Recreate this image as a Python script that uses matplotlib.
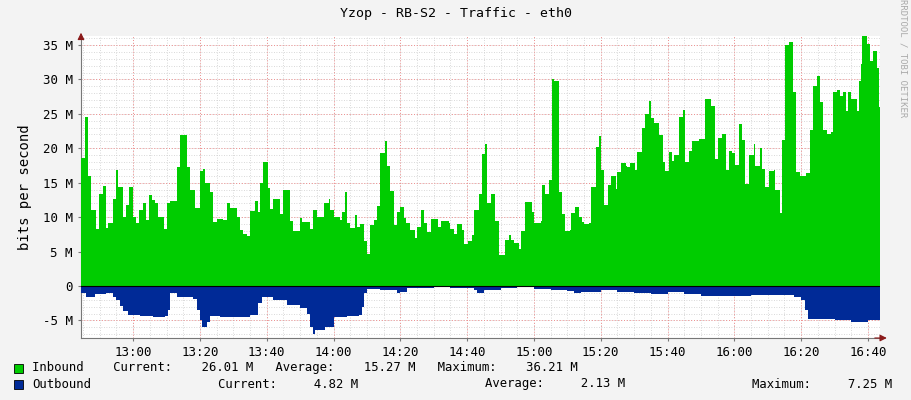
import matplotlib
matplotlib.use("Agg")
import matplotlib.pyplot as plt
import numpy as np

# (minutes after 12:00, inbound Mbit/s)
inbound = [
 (44.5,18.6),(45.5,24.5),(46.5,16.0),(47.5,11.0),(49.0,8.3),(49.7,13.4),(51.0,14.5),(51.8,8.4),(52.5,9.2),(54.0,12.6),
 (55.0,16.8),(55.5,14.4),(57.0,10.0),(58.0,11.8),(58.7,14.4),(60.0,10.0),(61.0,9.2),(61.8,11.0),(63.0,12.0),(64.0,9.6),
 (64.8,13.2),(65.7,12.5),(66.5,12.0),(67.5,10.0),(69.3,8.3),(70.0,12.0),(71.0,12.3),(73.0,17.3),(74.0,21.9),(76.0,17.3),
 (77.0,14.0),(78.5,11.3),(80.0,16.7),(81.0,17.0),(81.5,14.9),(83.0,13.6),(84.0,9.3),(85.0,9.7),(87.0,9.6),(88.0,12.0),
 (89.0,11.3),(91.0,10.0),(92.0,8.2),(93.0,7.6),(94.0,7.2),(95.0,10.9),(96.5,12.3),(97.5,10.8),(98.0,14.9),(99.0,18.0),
 (100.5,14.2),(101.0,11.2),(102.0,12.6),(104.0,10.4),(105.0,14.0),(107.0,9.5),(108.0,8.0),(110.0,9.9),(110.5,9.3),(113.0,8.3),
 (114.0,11.0),(115.0,10.0),(117.0,12.0),(118.5,12.6),(119.0,11.0),(120.0,10.0),(122.0,9.6),(122.5,10.8),(123.5,13.6),(124.0,9.1),
 (125.0,8.4),(126.5,10.3),(127.0,8.6),
 (128.0,9.0),(129.2,6.6),(130.0,4.7),(131.0,8.9),(132.2,9.6),(133.0,11.6),(134.0,19.3),(135.3,21.0),(136.0,17.4),(137.0,13.8),
 (138.0,8.9),(139.0,10.8),(140.0,11.4),(141.0,9.9),(141.8,9.2),(143.0,8.1),(144.5,7.0),(145.0,8.5),(146.3,11.0),(147.0,9.1),
 (148.0,7.9),(149.2,9.8),(151.2,8.6),(152.2,9.5),(154.5,9.1),(155.0,8.3),(156.2,7.5),(157.0,9.0),(158.5,8.2),(159.2,6.1),
 (160.2,6.6),(161.5,7.4),(162.2,11.0),(163.5,13.4),(164.3,19.2),(165.2,20.6),(166.0,12.0),(167.0,13.3),(168.2,9.4),(169.4,4.5),
 (171.2,6.7),(172.5,7.4),(173.2,6.7),(174.0,6.3),(175.5,5.4),(176.2,8.0),(177.2,12.2),(179.5,10.8),(180.0,9.2),(182.0,9.4),
 (182.5,14.7),(183.2,13.4),(184.5,15.4),(185.3,30.1),(186.0,29.8),(187.5,13.6),(188.5,10.4),(189.3,8.0),(190.8,8.2),(191.2,10.6),
 (192.2,11.5),(193.5,10.0),(194.5,9.3),(195.0,9.0),(196.5,9.2),(197.2,14.4),(198.5,20.2),(199.5,21.8),(200.0,16.8),(201.0,11.7),
 (202.2,14.6),(203.2,16.0),(204.5,14.1),(205.0,16.6),(206.2,17.9),(207.5,17.4),(208.0,17.3),
 (208.8,17.8),(210.3,16.8),(211.0,19.4),(212.3,23.0),(213.3,25.0),(214.3,26.9),(215.0,24.4),(216.0,23.6),(217.3,21.9),(218.6,18.0),
 (219.3,16.7),(220.3,19.4),(221.3,18.1),(222.0,19.0),(223.3,24.6),(224.6,25.5),(225.3,18.0),(226.3,19.6),(227.3,21.0),(229.3,21.3),
 (231.3,27.1),(233.0,26.1),(234.3,18.5),(235.0,21.5),(236.3,22.0),(237.6,16.8),(238.3,19.6),(239.3,19.3),(240.3,17.6),(241.4,23.5),
 (242.3,21.2),(243.3,14.8),(244.5,19.0),(245.8,20.6),(246.3,17.4),(247.6,20.1),(248.3,17.0),(249.3,14.4),(250.4,16.7),(251.8,16.9),
 (252.3,14.0),(253.6,10.6),(254.3,21.2),(255.3,35.0),(256.3,35.4),(257.6,28.1),(258.5,16.5),(259.6,16.0),(261.3,16.4),(262.6,22.6),
 (263.6,29.1),(264.6,30.5),(265.5,26.7),(266.5,22.6),(267.8,22.1),(268.8,22.3),(269.5,28.1),(270.8,28.5),(271.5,27.6),(272.6,28.1),
 (273.5,25.4),(274.1,28.1),(274.8,27.2),(276.6,25.4),(277.3,29.7),(278.0,32.3),(278.3,36.3),(279.6,35.2),(280.6,32.6),(281.6,34.1),
 (282.8,31.7),(283.2,26.0),
]
in_t = [p[0] for p in inbound]
in_v = [p[1] for p in inbound]

out_t = [44.4,46,48.5,52,54,55,56,57,58.5,62,66,69.5,70.5,71,73,78,79,80,80.5,82,83,86,90,95,97.5,98.5,102,106,110,112,113,114,114.5,117.5,120,124,127.5,128.5,129,130,134,139,140,142,150,155,162,163,165,170,175,180,185,190,192,194,200,205,210,215,220,225,230,245,258,260,261,262,270,275,280]
out_v = [1.06,1.55,1.2,1.06,1.55,2.0,2.9,3.6,4.2,4.35,4.45,4.35,3.5,1.06,1.55,1.9,3.5,4.9,5.9,5.2,4.35,4.55,4.45,4.2,2.5,1.55,2.1,2.75,3.2,4.0,5.9,6.9,6.4,5.9,4.55,4.35,4.2,3.1,1.06,0.5,0.6,1.06,0.8,0.35,0.2,0.35,0.6,1.0,0.6,0.35,0.2,0.4,0.6,0.7,1.06,0.8,0.6,0.8,1.0,1.1,0.9,1.1,1.4,1.3,1.55,2.0,3.5,4.8,4.95,5.2,4.9]

xticks = [60,80,100,120,140,160,180,200,220,240,260,280]
xlabels = ["13:00","13:20","13:40","14:00","14:20","14:40","15:00","15:20","15:40","16:00","16:20","16:40"]
yticks = [-5,0,5,10,15,20,25,30,35]
ylabels = ["-5 M","0","5 M","10 M","15 M","20 M","25 M","30 M","35 M"]

mono = "DejaVu Sans Mono"
plt.rcParams['font.family'] = mono
fig = plt.figure(figsize=(9.11, 4.0), dpi=100, facecolor="#F3F3F3")
ax = fig.add_axes([81/911, 62/400, 799/911, 302/400])
ax.set_facecolor("white")
XMIN, XMAX = 44.4, 283.6
ax.set_xlim(XMIN, XMAX)
ax.set_ylim(-7.55, 36.3)

t_in = np.array(in_t + [XMAX]); v_in = np.array(in_v + [in_v[-1]])
ax.fill_between(t_in, 0, v_in, step="post", color="#00CC00", lw=0, zorder=3)
t_out = np.array(out_t + [XMAX]); v_out = -np.array(out_v + [out_v[-1]])
ax.fill_between(t_out, 0, v_out, step="post", color="#002A97", lw=0, zorder=3)

for x in np.arange(45, 284, 5):
    ax.axvline(x, color="#CCCCCC", lw=0.6, ls=(0, (1, 2)), zorder=1)
for y in np.arange(-7, 37, 1):
    ax.axhline(y, color="#CCCCCC", lw=0.6, ls=(0, (1, 2)), zorder=1)
for x in xticks:
    ax.axvline(x, color="#F09090", lw=0.7, ls=(0, (1, 2)), zorder=2)
for y in yticks:
    ax.axhline(y, color="#F09090", lw=0.7, ls=(0, (1, 2)), zorder=2)
ax.axhline(0, color="black", lw=0.8, zorder=4)

ax.set_xticks(xticks); ax.set_xticklabels(xlabels, fontsize=9)
ax.set_yticks(yticks); ax.set_yticklabels(ylabels, fontsize=9)
ax.tick_params(length=2, color="#777777", pad=4)
for s in ["top", "right"]:
    ax.spines[s].set_visible(False)
for s in ["left", "bottom"]:
    ax.spines[s].set_color("#777777")
ax.annotate("", xy=(0, 1.02), xytext=(0, 0.98), xycoords="axes fraction",
            arrowprops=dict(arrowstyle="-|>", color="#8B1A1A", lw=0.8))
ax.annotate("", xy=(1.012, 0), xytext=(0.99, 0), xycoords="axes fraction",
            arrowprops=dict(arrowstyle="-|>", color="#8B1A1A", lw=0.8))
ax.set_ylabel("bits per second", fontsize=10, labelpad=8)

fig.text(0.5, 1 - 14/400, "Yzop - RB-S2 - Traffic - eth0", ha="center", va="center", fontsize=9.5)
fig.text(903/911, 0.855, "RRDTOOL / TOBI OETIKER", rotation=270, ha="center", va="center",
         fontsize=6.5, color="#AAAAAA")

for yy, col in [(368, "#00CC00"), (384, "#002A97")]:
    fig.patches.append(plt.Rectangle((14/911, 1 - (yy + 5)/400), 9/911, 9/400,
                       transform=fig.transFigure, facecolor=col, edgecolor="black", lw=0.6))
fs = 8.8
fig.text(32/911, 1 - 368/400, "Inbound    Current:    26.01 M   Average:    15.27 M   Maximum:    36.21 M",
         fontsize=fs, va="center")
fig.text(32/911, 1 - 384/400, "Outbound", fontsize=fs, va="center")
fig.text(218/911, 1 - 384/400, "Current:     4.82 M", fontsize=fs, va="center")
fig.text(485/911, 1 - 384/400, "Average:     2.13 M", fontsize=fs, va="center")
fig.text(752/911, 1 - 384/400, "Maximum:     7.25 M", fontsize=fs, va="center")

fig.savefig("out.png", dpi=100, facecolor=fig.get_facecolor())
